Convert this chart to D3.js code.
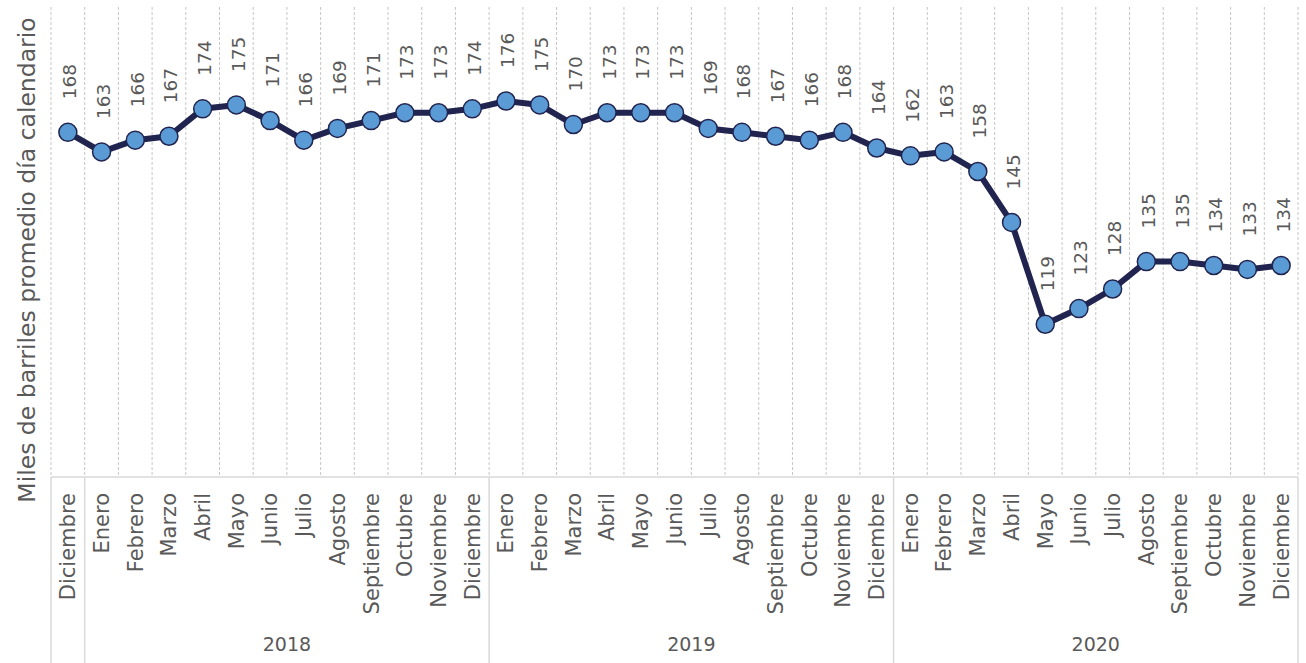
<!DOCTYPE html>
<html>
<head>
<meta charset="utf-8">
<script src="https://cdn.jsdelivr.net/npm/d3@7"></script>
<style>
  body { margin: 0; background: #fff; }
  svg text { font-family: "DejaVu Sans", sans-serif; fill: #595959; }
</style>
</head>
<body>
<svg id="chart" width="1306" height="663"></svg>
<script>
const categories = [
  "Diciembre",
  "Enero", "Febrero", "Marzo", "Abril", "Mayo", "Junio", "Julio", "Agosto", "Septiembre", "Octubre", "Noviembre", "Diciembre",
  "Enero", "Febrero", "Marzo", "Abril", "Mayo", "Junio", "Julio", "Agosto", "Septiembre", "Octubre", "Noviembre", "Diciembre",
  "Enero", "Febrero", "Marzo", "Abril", "Mayo", "Junio", "Julio", "Agosto", "Septiembre", "Octubre", "Noviembre", "Diciembre"
];
const yearLabels = ["", "2018", "2019", "2020"];
const yearSizes = [1, 12, 12, 12];
const values = [
  168,
  163, 166, 167, 174, 175, 171, 166, 169, 171, 173, 173, 174,
  176, 175, 170, 173, 173, 173, 169, 168, 167, 166, 168, 164,
  162, 163, 158, 145, 119, 123, 128, 135, 135, 134, 133, 134
];
const yTitle = "Miles de barriles promedio día calendario";

const margin = { top: 7, right: 8, bottom: 186, left: 51 },
  width = 1306 - margin.left - margin.right,
  height = 663 - margin.top - margin.bottom;

const svg = d3.select("#chart")
  .append("g")
  .attr("transform", `translate(${margin.left},${margin.top})`);

const x = d3.scaleBand().domain(d3.range(values.length)).range([0, width]);
const y = d3.scaleLinear().domain([80, 200]).range([height, 0]);
const bw = x.bandwidth();
const cx = (i) => x(i) + bw / 2;

// dashed vertical grid at category boundaries
const bounds = d3.range(values.length).map((i) => x(i)).concat([width]);
svg.selectAll(".grid")
  .data(bounds)
  .enter()
  .append("line")
  .attr("class", "grid")
  .attr("x1", (d) => d).attr("x2", (d) => d)
  .attr("y1", 0).attr("y2", height)
  .attr("stroke", "#c6c6c6")
  .attr("stroke-width", 1)
  .attr("stroke-dasharray", "3,2");

// baseline
svg.append("line")
  .attr("x1", 0).attr("x2", width)
  .attr("y1", height).attr("y2", height)
  .attr("stroke", "#d9d9d9")
  .attr("stroke-width", 1.5);

// group separators below the axis
let start = 0;
const groups = yearLabels.map((lab, k) => {
  const g = { label: lab, from: start, to: start + yearSizes[k] };
  start += yearSizes[k];
  return g;
});
const sepX = [0].concat(groups.map((g) => (g.to < values.length ? x(g.to) : width)));
svg.selectAll(".sep")
  .data(sepX)
  .enter()
  .append("line")
  .attr("class", "sep")
  .attr("x1", (d) => d).attr("x2", (d) => d)
  .attr("y1", height).attr("y2", height + margin.bottom)
  .attr("stroke", "#d9d9d9")
  .attr("stroke-width", 1.5);

// month labels
svg.selectAll(".month")
  .data(categories)
  .enter()
  .append("text")
  .attr("class", "month")
  .attr("transform", (d, i) => `translate(${cx(i)},${height + 16}) rotate(-90)`)
  .attr("dy", "0.35em")
  .attr("text-anchor", "end")
  .style("font-size", "21px")
  .text((d) => d);

// year labels
svg.selectAll(".year")
  .data(groups)
  .enter()
  .append("text")
  .attr("class", "year")
  .attr("x", (g) => (x(g.from) + (g.to < values.length ? x(g.to) : width)) / 2)
  .attr("y", height + 174)
  .attr("text-anchor", "middle")
  .style("font-size", "19px")
  .text((g) => g.label);

// y axis title
svg.append("text")
  .attr("transform", `translate(${-16},${height / 2 + 18}) rotate(-90)`)
  .attr("text-anchor", "middle")
  .style("font-size", "23.5px")
  .text(yTitle);

// line
const line = d3.line().x((d, i) => cx(i)).y((d) => y(d));
svg.append("path")
  .datum(values)
  .attr("fill", "none")
  .attr("stroke", "#20244f")
  .attr("stroke-width", 6)
  .attr("stroke-linejoin", "round")
  .attr("d", line);

svg.selectAll(".dot")
  .data(values)
  .enter()
  .append("circle")
  .attr("class", "dot")
  .attr("cx", (d, i) => cx(i))
  .attr("cy", (d) => y(d))
  .attr("r", 9)
  .attr("fill", "#5b9bd5")
  .attr("stroke", "#20244f")
  .attr("stroke-width", 1.5);

// data labels
svg.selectAll(".val")
  .data(values)
  .enter()
  .append("text")
  .attr("class", "val")
  .attr("transform", (d, i) => `translate(${cx(i) + 2},${y(d) - 33}) rotate(-90)`)
  .attr("dy", "0.35em")
  .attr("text-anchor", "start")
  .style("font-size", "18.5px")
  .text((d) => d3.format("d")(d));
</script>
</body>
</html>
